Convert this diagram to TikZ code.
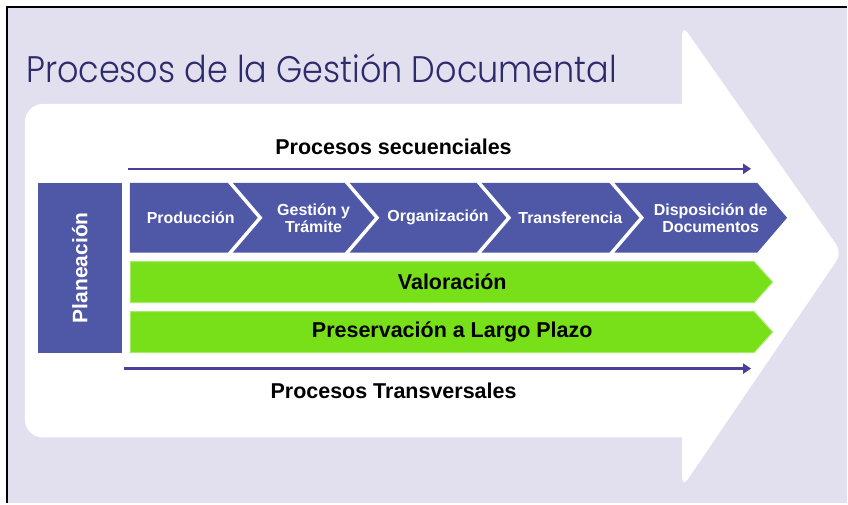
\documentclass[tikz,border=0pt]{standalone}
\usepackage{fontspec}
\setmainfont{Liberation Sans}
\newfontfamily\titlefont{Poppins Light}[FakeStretch=0.905]
\usepackage{tikz}
\usetikzlibrary{positioning}
\usetikzlibrary{shapes.symbols}
\usetikzlibrary{arrows.meta}
\usepackage{xcolor}
\definecolor{mylavender}{HTML}{E2E0EF}
\definecolor{mytitle}{HTML}{2D2B6B}
\definecolor{myblue}{HTML}{4F58A7}
\definecolor{mygreen}{HTML}{77E018}
\definecolor{mylightgreen}{HTML}{A6EC68}
\definecolor{myline}{HTML}{4B3F9C}

\begin{document}
\begin{tikzpicture}[
            x=1pt, y=-1pt,
            chevtext/.style={
                text=white,
                font=\bfseries\fontsize{16}{17}\selectfont,
                align=center,
                inner sep=0pt
            },
            bar/.style={
                signal,
                signal to=east,
                signal from=nowhere,
                signal pointer angle=96,
                fill=mygreen,
                draw=mylightgreen,
                line width=1pt,
                font=\bfseries\fontsize{21.5}{22}\selectfont,
                minimum width=643pt,
                minimum height=41pt,
                inner sep=0pt
            },
            flow/.style={myline, line width=2.2pt, -{Triangle[length=8pt,width=10pt]}},
            label/.style={font=\bfseries\fontsize{21.5}{22}\selectfont}
        ]

            % Background and frame
            \fill[white] (0,0) rectangle (848,504);
            \fill[mylavender] (7,7) rectangle (848,504);
            \draw[black, line width=2pt] (848,7) -- (7,7) -- (7,504);

            % Big arrow
            \fill[white] (25,130) [rounded corners=18] -- (25,104) [sharp corners] -- (683,104)
                [rounded corners=10] -- (683,25) -- (843,253) -- (683,488) [sharp corners] -- (683,438)
                [rounded corners=18] -- (25,438) [sharp corners] -- (25,130) -- cycle;

            % Title
            \node[anchor=base west, inner sep=0pt, text=mytitle,
                  font=\titlefont\fontsize{37}{40}\selectfont] (title) at (26,83)
                {Procesos de la Gestión Documental};

            % Planeacion
            \node[rectangle, fill=myblue, text=white, rotate=90,
                  minimum width=170pt, minimum height=84pt,
                  font=\bfseries\fontsize{21}{22}\selectfont] (plan) at (80,268) {Planeación};

            % Sequential chevrons
            \fill[myblue] (130,183) -- (228,183) -- (258,218) -- (228,253) -- (130,253) -- cycle;
            \node[chevtext] (prod) at (191,218) {Producción};
            \foreach \xl/\xr/\nm/\txt in {233/345/gest/{Gestión y\\Trámite},
                                          350/477/orga/{Organización},
                                          482/610/trans/{Transferencia},
                                          615/758/disp/{Disposición de\\Documentos}} {
                \fill[myblue] (\xl,183) -- (\xr,183) -- (\xr+30,218) -- (\xr,253)
                    -- (\xl,253) -- (\xl+30,218) -- cycle;
                \node[chevtext] (\nm) at ({(\xl+\xr)/2+25},218) {\txt};
            }

            % Transversal bars
            \node[bar, anchor=west] (valor) at (130,282.5) {\hspace*{20pt}Valoración};
            \node[bar, anchor=west] (pres) at (130,332.5) {\hspace*{20pt}Preservación a Largo Plazo};

            \node[label] (seqlbl) at (394,147) {Procesos secuenciales};
            \node[label] (trvlbl) at (394,391) {Procesos Transversales};

            % Arrows
            \coordinate (seqA) at (128,169);
            \coordinate (seqB) at (752,169);
            \coordinate (trvA) at (124,369);
            \coordinate (trvB) at (752,369);
            \draw[flow] (seqA) -- (seqB);
            \draw[flow] (trvA) -- (trvB);
        \end{tikzpicture}
\end{document}
